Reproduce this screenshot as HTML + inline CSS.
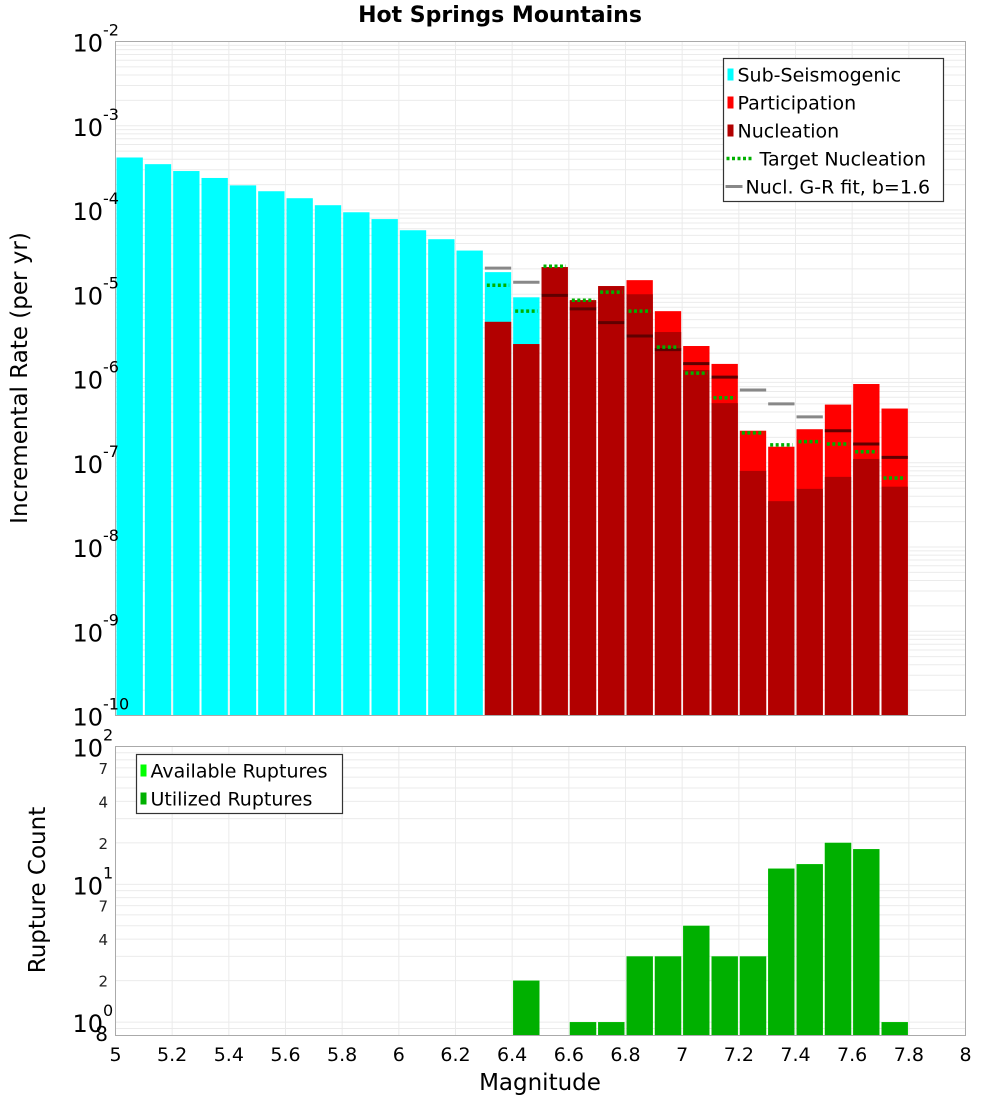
<!DOCTYPE html>
<html><head><meta charset="utf-8"><style>
html,body{margin:0;padding:0;background:#fff;}
svg{display:block;font-family:"DejaVu Sans","Liberation Sans",sans-serif;}
</style></head><body>
<svg id="c" width="1000" height="1100" viewBox="0 0 1000 1100" xmlns="http://www.w3.org/2000/svg">
<text x="500" y="22" text-anchor="middle" font-size="22" font-weight="bold">Hot Springs Mountains</text>
<g id="topPanel"></g>
<g id="botPanel"></g>
<text transform="translate(27,378) rotate(-90)" text-anchor="middle" font-size="23">Incremental Rate (per yr)</text>
<text transform="translate(45,890) rotate(-90)" text-anchor="middle" font-size="23">Rupture Count</text>
<text x="540" y="1090" text-anchor="middle" font-size="23">Magnitude</text>
</svg>
<script>
const subMags=[5.05,5.15,5.25,5.35,5.45,5.55,5.65,5.75,5.85,5.95,6.05,6.15,6.25,6.35,6.45];
const subRates=[4.2e-4,3.5e-4,2.9e-4,2.4e-4,1.96e-4,1.67e-4,1.38e-4,1.14e-4,9.4e-5,7.8e-5,5.75e-5,4.5e-5,3.3e-5,1.83e-5,9.2e-6];
const supMags=[6.35,6.45,6.55,6.65,6.75,6.85,6.95,7.05,7.15,7.25,7.35,7.45,7.55,7.65,7.75];
const partRates=[4.7e-6,2.56e-6,2.1e-5,8.5e-6,1.25e-5,1.47e-5,6.3e-6,2.43e-6,1.49e-6,2.4e-7,1.55e-7,2.5e-7,4.9e-7,8.6e-7,4.4e-7];
const nuclRates=[4.7e-6,2.56e-6,2.1e-5,8.5e-6,1.25e-5,1.0e-5,3.56e-6,1.26e-6,5.1e-7,8.0e-8,3.5e-8,4.9e-8,6.8e-8,1.11e-7,5.2e-8];
const targetRates=[1.28e-5,6.3e-6,2.15e-5,8.5e-6,1.06e-5,6.3e-6,2.36e-6,1.16e-6,5.9e-7,2.26e-7,1.63e-7,1.78e-7,1.67e-7,1.35e-7,6.6e-8];
const grRates=[2.04e-5,1.39e-5,9.7e-6,6.7e-6,4.6e-6,3.2e-6,2.2e-6,1.5e-6,1.04e-6,7.3e-7,5.0e-7,3.5e-7,2.4e-7,1.67e-7,1.16e-7];
const countMags=[6.45,6.65,6.75,6.85,6.95,7.05,7.15,7.25,7.35,7.45,7.55,7.65,7.75];
const availCounts=[2,1,1,3,3,5,3,3,13,14,20,18,1];
const usedCounts=[2,1,1,3,3,5,3,3,13,14,20,18,1];
const xTicks=[5,5.2,5.4,5.6,5.8,6,6.2,6.4,6.6,6.8,7,7.2,7.4,7.6,7.8,8];
const topDecades=[-10,-9,-8,-7,-6,-5,-4,-3,-2];

const NS="http://www.w3.org/2000/svg";
const X0=115.5,X1=965.5;
const T0=41.5,T1=715.5,B0=746.5,B1=1035.5;
const xs=m=>X0+(m-5)/3*(X1-X0);
const yt=v=>T1-(Math.log10(v)+10)/8*(T1-T0);
const ybMin=Math.log10(0.8),ybMax=2;
const yb=v=>B1-(Math.log10(v)-ybMin)/(ybMax-ybMin)*(B1-B0);
function mk(p,tag,a){const e=document.createElementNS(NS,tag);for(const k in a)e.setAttribute(k,a[k]);p.appendChild(e);return e;}
const topG=document.getElementById('topPanel'),botG=document.getElementById('botPanel');

function grid(g,y0,y1,yf,vals){
  for(const v of vals){const y=yf(v);mk(g,'line',{x1:X0,x2:X1,y1:y,y2:y,stroke:'#ebebeb','stroke-width':1});}
  for(const t of xTicks){const x=xs(t);mk(g,'line',{x1:x,x2:x,y1:y0,y2:y1,stroke:'#ebebeb','stroke-width':1});}
}
let tv=[];for(let d=-10;d<-2;d++)for(let k=1;k<10;k++)tv.push(k*Math.pow(10,d));
grid(topG,T0,T1,yt,tv);
let bv=[];for(let d=-1;d<2;d++)for(let k=1;k<10;k++){const v=k*Math.pow(10,d);if(v>=0.8&&v<=100)bv.push(v);}
grid(botG,B0,B1,yb,bv);

const bw=(X1-X0)/30-2;
function bar(g,m,v,base,col,name){
  const x=xs(m)-bw/2,y=base(v),y0=base===yt?T1:B1;
  const r=mk(g,'rect',{x:x,y:y,width:bw,height:Math.max(0,y0-y),fill:col});
  
  
}
subMags.forEach((m,i)=>bar(topG,m,subRates[i],yt,'#00ffff','sub-seismogenic-bar'));
supMags.forEach((m,i)=>bar(topG,m,partRates[i],yt,'#ff0000','participation-bar'));
supMags.forEach((m,i)=>bar(topG,m,nuclRates[i],yt,'#b20000','nucleation-bar'));
supMags.forEach((m,i)=>{const y=yt(grRates[i]);const l=mk(topG,'line',{x1:xs(m)-bw/2,x2:xs(m)+bw/2,y1:y,y2:y,stroke:(grRates[i]<partRates[i]?'#600000':'#888'),'stroke-width':3});
  
  });
supMags.forEach((m,i)=>{const y=yt(targetRates[i]);const l=mk(topG,'line',{x1:xs(m)-bw/2+2,x2:xs(m)+bw/2-2,y1:y,y2:y,stroke:'#00b000','stroke-width':3.5,'stroke-dasharray':'3,2.5'});
  
  });
countMags.forEach((m,i)=>bar(botG,m,availCounts[i],yb,'#00ff00','available-ruptures-bar'));
countMags.forEach((m,i)=>bar(botG,m,usedCounts[i],yb,'#00b000','utilized-ruptures-bar'));

mk(topG,'rect',{x:X0,y:T0,width:X1-X0,height:T1-T0,fill:'none',stroke:'#aaa','stroke-width':1});
mk(botG,'rect',{x:X0,y:B0,width:X1-X0,height:B1-B0,fill:'none',stroke:'#aaa','stroke-width':1});

xTicks.forEach(t=>{const e=mk(botG,'text',{x:xs(t),y:1061,'text-anchor':'middle','font-size':19});e.textContent=String(t);
  
  });
function powLabel(g,y,exp){
  const e=mk(g,'text',{x:103,y:y+10,'text-anchor':'end','font-size':24});e.textContent='10';
  
  
  const s=mk(g,'text',{x:103,y:y-6,'text-anchor':'start','font-size':16});s.textContent=String(exp);
  
  
}
topDecades.forEach(d=>powLabel(topG,yt(Math.pow(10,d)),d));
[0,1,2].forEach(d=>powLabel(botG,yb(Math.pow(10,d)),d));
[2,4,7,20,40,70].forEach(v=>{const e=mk(botG,'text',{x:108,y:yb(v)+6,'text-anchor':'end','font-size':15,fill:'#222'});e.textContent=String(v<10?v:v/10);
  
  });
{const e=mk(botG,'text',{x:108,y:1041,'text-anchor':'end','font-size':20});e.textContent='8';
  
  }

function legend(g,x,y,w,h,items,name){
  const lg=mk(g,'g',{});
  
  
  mk(lg,'rect',{x:x,y:y,width:w,height:h,fill:'#fff',stroke:'#333','stroke-width':1.2});
  items.forEach((it,i)=>{const cy=y+16+i*28;
    if(it.t==='sq')mk(lg,'rect',{x:x+4,y:cy-6,width:6,height:12,fill:it.c});
    else if(it.t==='dot')mk(lg,'line',{x1:x+3,x2:x+29,y1:cy,y2:cy,stroke:it.c,'stroke-width':3.5,'stroke-dasharray':'3,2.5'});
    else mk(lg,'line',{x1:x+2,x2:x+19,y1:cy,y2:cy,stroke:it.c,'stroke-width':3});
    const tx=mk(lg,'text',{x:x+it.o,y:cy+7,'font-size':19});tx.textContent=it.l;
    
    });
}
legend(topG,723.5,58.5,220,143,[
 {t:'sq',c:'#00ffff',l:'Sub-Seismogenic',o:14},
 {t:'sq',c:'#ff0000',l:'Participation',o:14},
 {t:'sq',c:'#b20000',l:'Nucleation',o:14},
 {t:'dot',c:'#00b000',l:'Target Nucleation',o:36},
 {t:'ln',c:'#888',l:'Nucl. G-R fit, b=1.6',o:22}],'rate-legend');
legend(botG,136.5,754.5,206,59,[
 {t:'sq',c:'#00ff00',l:'Available Ruptures',o:14},
 {t:'sq',c:'#00b000',l:'Utilized Ruptures',o:14}],'count-legend');
</script>
</body></html>
